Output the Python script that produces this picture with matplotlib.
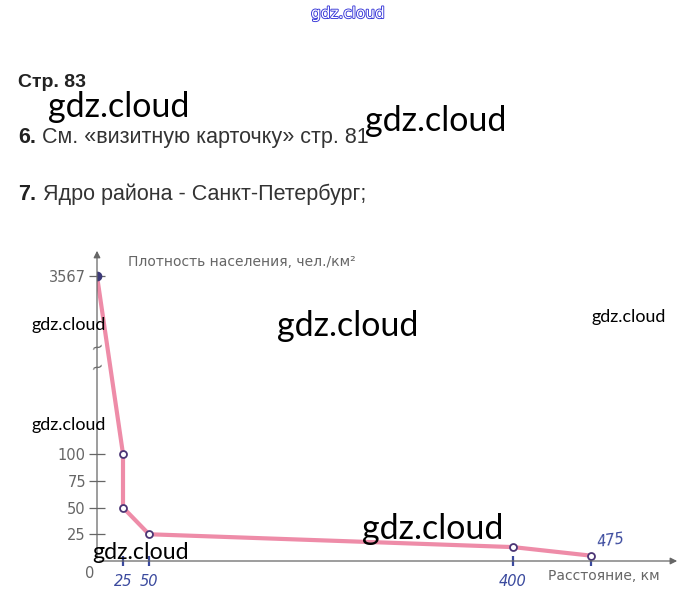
import numpy as np
import matplotlib
matplotlib.use('Agg')
import matplotlib.pyplot as plt
import matplotlib.patheffects as pe

# Hand drawn curve: distance from the core (km) vs population density
distance = [0, 25, 25, 50, 400, 475]
density = [3567, 100, 50, 25, 13, 5]

x_ticks = [25, 50, 400, 475]
x_labels = ['25', '50', '400', '']
y_ticks = [25, 50, 75, 100, 3567]
y_labels = ['25', '50', '75', '100', '3567']

# broken y axis: values -> pixel height above the x axis
break_vals = [0, 100, 3567, 5000]
break_pix = [0, 107, 285, 321]

W, H = 697, 611

def fx(x):
    return x / W

def fy(y):
    return 1 - y / H

fig = plt.figure(figsize=(W / 100, H / 100), dpi=100)

# page text
body = 'Liberation Sans'
fig.text(fx(348), fy(18), 'gdz.cloud', fontsize=11, family='DejaVu Sans', color='white',
         ha='center', va='baseline',
         path_effects=[pe.withStroke(linewidth=1.3, foreground='#3636d8')])
fig.text(fx(18), fy(87), 'Стр. 83', fontsize=14, family=body, weight='bold', color='#222222', va='baseline')
fig.text(fx(18), fy(143), '6.', fontsize=15.5, family=body, weight='bold', color='#222222', va='baseline')
fig.text(fx(42), fy(143), 'См. «визитную карточку» стр. 81', fontsize=15.5, family=body, color='#333333', va='baseline')
fig.text(fx(18), fy(200), '7.', fontsize=15.5, family=body, weight='bold', color='#222222', va='baseline')
fig.text(fx(43), fy(200), 'Ядро района - Санкт-Петербург;', fontsize=15.5, family=body, color='#333333', va='baseline')

# chart
ax = fig.add_axes([fx(97), 1 - 561 / H, 590 / W, 321 / H])
ax.set_xlim(0, 590 / 1.04)
ax.set_yscale('function', functions=(lambda v: np.interp(v, break_vals, break_pix),
                                     lambda p: np.interp(p, break_pix, break_vals)))
ax.set_ylim(0, 5000)
for s in ax.spines.values():
    s.set_visible(False)
ax.patch.set_alpha(0)

ax.plot(distance, density, color='#ea6f93', lw=3, alpha=0.8, solid_capstyle='round', zorder=2)
ax.plot(distance[1:], density[1:], 'o', ms=5, mfc='white', mec='#4b3575', mew=1.3, zorder=3)
ax.plot(distance[:1], density[:1], 'o', ms=6, color='#3c3a78', zorder=3)

axis_col = '#666666'
ax.annotate('', xy=(0, 0.975), xytext=(0, 0), xycoords='axes fraction',
            arrowprops=dict(arrowstyle='-|>', color=axis_col, lw=0.9, mutation_scale=10))
ax.annotate('', xy=(0.988, 0), xytext=(0, 0), xycoords='axes fraction',
            arrowprops=dict(arrowstyle='-|>', color=axis_col, lw=0.9, mutation_scale=10))

ax.set_yticks(y_ticks)
ax.set_yticklabels(y_labels, family='DejaVu Sans', fontsize=10.5, color='#666666')
ax.tick_params(axis='y', direction='inout', length=12, width=0.9, color=axis_col, pad=2)

hand = '#3b4a9e'
ax.set_xticks(x_ticks)
ax.set_xticklabels(x_labels, family='DejaVu Sans', fontsize=10.5, style='italic', color=hand)
ax.tick_params(axis='x', direction='inout', length=7, width=1.6, color=hand, pad=6)
ax.annotate('475', xy=(475, 0), xytext=(20, 14), textcoords='offset pixels', ha='center',
            fontsize=10.5, style='italic', color=hand, rotation=8)
ax.annotate('0', xy=(0, 0), xytext=(-7, -17), textcoords='offset pixels', ha='center',
            fontsize=10.5, color='#666666')

# break marks on the y axis
for yb in (0.667, 0.604):
    ax.text(0, yb, '~', transform=ax.transAxes, ha='center', va='center', fontsize=11,
            color=axis_col, rotation=20)

fig.text(fx(128), fy(266), 'Плотность населения, чел./км²', fontsize=10, color='#666666', va='baseline')
fig.text(fx(548), fy(580), 'Расстояние, км', fontsize=10, color='#666666', va='baseline')

# watermarks
wm = [(48, 117, 24.5), (365, 131, 24.5), (277, 336, 24.5), (362, 539, 24.5),
      (32, 330, 12.9), (32, 430, 12.9), (92, 559, 16.7), (592, 322, 12.9)]
for x, y, size in wm:
    fig.text(fx(x), fy(y), 'gdz.cloud', fontsize=size, family='Lato', color='black', va='baseline')

fig.savefig('out.png', dpi=100)
